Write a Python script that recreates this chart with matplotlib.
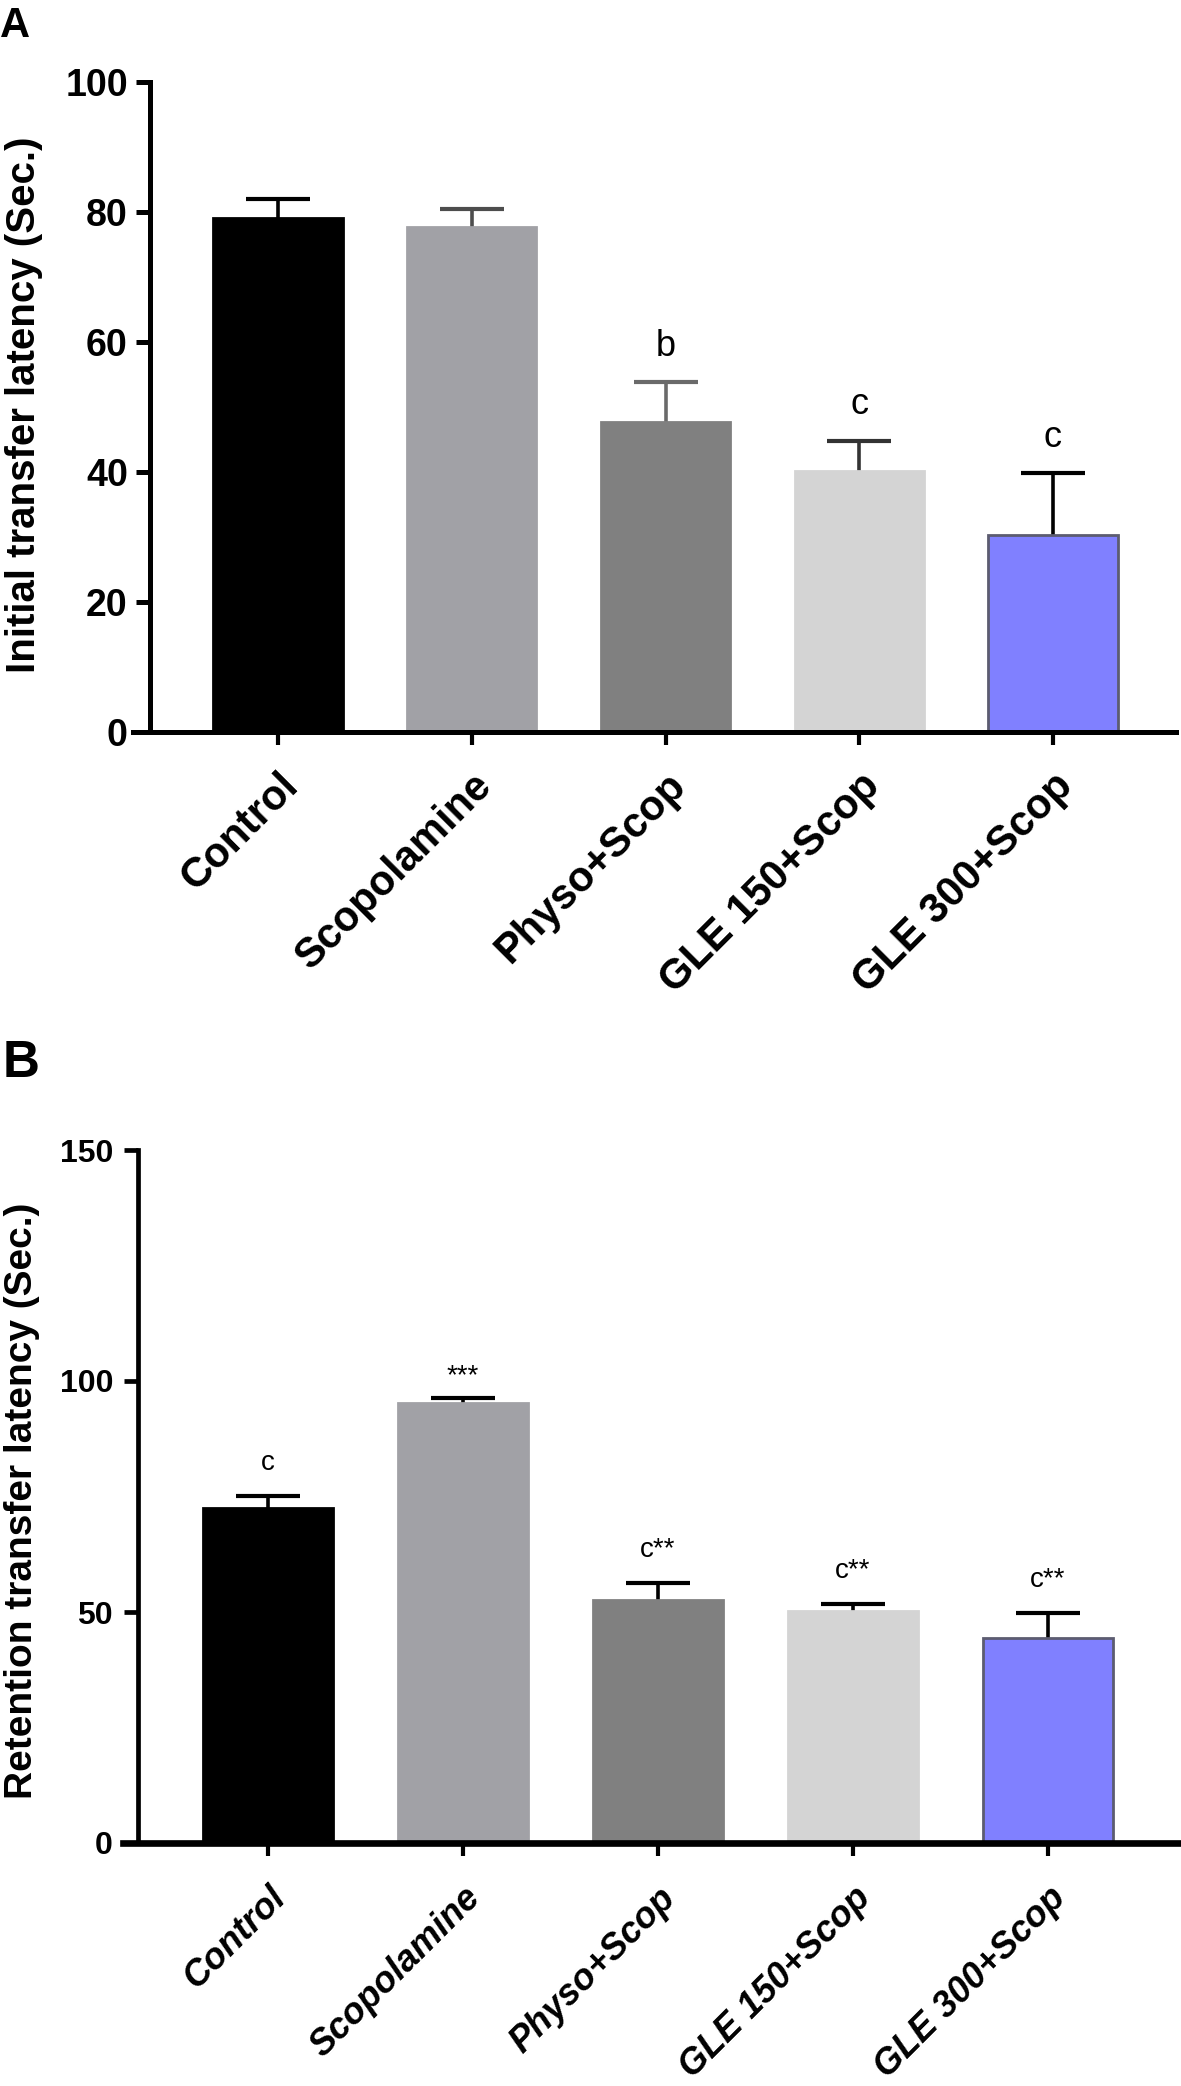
import numpy as np
import matplotlib
matplotlib.use('Agg')
import matplotlib.pyplot as plt

plt.rcParams['font.family'] = ['Liberation Sans', 'DejaVu Sans']

# dados
grupos = ['Control', 'Scopolamine', 'Physo+Scop', 'GLE 150+Scop', 'GLE 300+Scop']

inicial_media = [79.1, 77.7, 47.7, 40.2, 30.3]
inicial_erro = [2.9, 2.7, 6.1, 4.6, 9.5]
inicial_letras = ['', '', 'b', 'c', 'c']

retencao_media = [72.5, 95.2, 52.7, 50.2, 44.4]
retencao_erro = [2.6, 1.1, 3.6, 1.5, 5.4]
retencao_letras = ['c', '***', 'c**', 'c**', 'c**']

cores = ['#000000', '#a1a1a6', '#808080', '#d4d4d4', '#8080ff']
bordas = ['#000000', '#a1a1a6', '#808080', '#d4d4d4', '#5c5c70']
cores_erro_a = ['#000000', '#4d4d4d', '#6a6a6a', '#333333', '#000000']

W, H = 1181, 2086
fig = plt.figure(figsize=(W / 100, H / 100), dpi=100)


def painel(rect, medias, erros, letras, ymax, yticks, cores_erro,
           lw_x, lw_y, tick_fs, label_fs, xlab_fs, xlab_style, ylabel,
           label_xy, yspine, xlim, txt_fs, tick_pad, xpad):
    ax = fig.add_axes(rect)
    x = np.arange(len(grupos))
    ax.bar(x, medias, width=0.667, color=cores, edgecolor=bordas,
           linewidth=2, zorder=2)
    for i in range(len(grupos)):
        ax.errorbar(x[i], medias[i], yerr=erros[i], fmt='none',
                    ecolor=cores_erro[i], elinewidth=2.6, capsize=23,
                    capthick=3, zorder=1)
    for i, t in enumerate(letras):
        if not t:
            continue
        off = 11 if t == '***' else 19
        ax.annotate(t, (x[i], medias[i] + erros[i]), xytext=(0, off),
                    textcoords='offset points', ha='center', va='baseline',
                    fontsize=txt_fs, zorder=3)
    ax.set_xlim(*xlim)
    ax.set_ylim(0, ymax)
    ax.set_yticks(yticks)
    ax.set_xticks(x)
    ax.set_xticklabels(grupos, rotation=45, ha='right', va='top',
                       rotation_mode='anchor')
    ax.spines['top'].set_visible(False)
    ax.spines['right'].set_visible(False)
    ax.spines['left'].set_position(('data', yspine))
    ax.spines['left'].set_linewidth(lw_y)
    ax.spines['bottom'].set_linewidth(lw_x)
    ax.tick_params(axis='y', length=10, width=lw_y, pad=tick_pad,
                   labelsize=tick_fs)
    ax.tick_params(axis='x', length=9, width=3, pad=xpad, labelsize=xlab_fs)
    for lab in ax.get_yticklabels():
        lab.set_fontweight('bold')
    for lab in ax.get_xticklabels():
        lab.set_fontweight('bold')
        lab.set_fontstyle(xlab_style)
    ax.set_ylabel(ylabel, fontsize=label_fs, fontweight='bold',
                  ha='center', va='center')
    ax.yaxis.set_label_coords(*label_xy)
    return ax


# Painel A
painel([133 / W, 1 - 732 / H, (1176 - 133) / W, 650 / H],
       inicial_media, inicial_erro, inicial_letras, 100, [0, 20, 40, 60, 80, 100],
       cores_erro_a, 3.6, 3.6, 27, 29, 30, 'normal',
       'Initial transfer latency (Sec.)', ((24 - 133) / 1043, (732 - 405) / 650),
       -0.661, (-0.749, 4.635), 26, 6, 15)

# Painel B
painel([123 / W, 1 - 1843 / H, (1181 - 123) / W, 693 / H],
       retencao_media, retencao_erro, retencao_letras, 150, [0, 50, 100, 150],
       ['#000000'] * 5, 4.8, 3.4, 23, 28, 26, 'italic',
       'Retention transfer latency (Sec.)', ((22 - 123) / 1058, (1843 - 1501) / 693),
       -0.667, (-0.744, 4.682), 20, 8, 18)

fig.text(0.0, 1 - 37 / H, 'A', fontsize=30, fontweight='bold', va='baseline')
fig.text(3 / W, 1 - 1077 / H, 'B', fontsize=37, fontweight='bold', va='baseline')

fig.savefig('out.png', dpi=100)
